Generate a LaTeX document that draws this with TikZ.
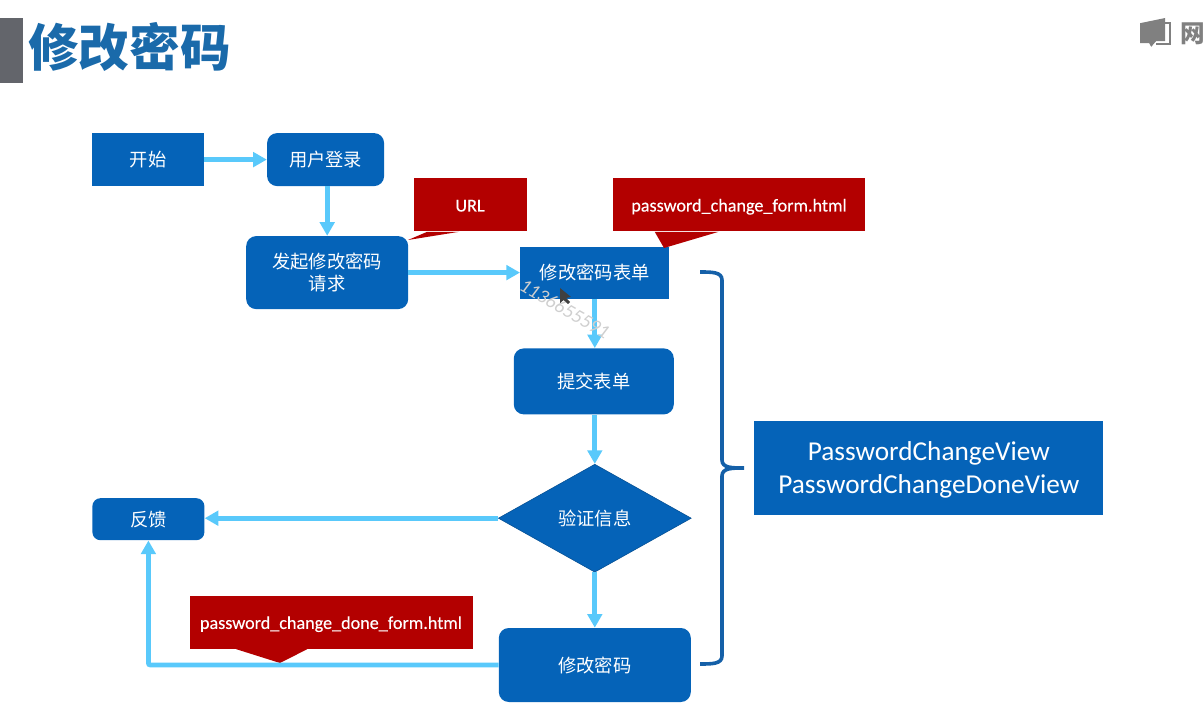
\documentclass[tikz,border=0pt]{standalone}
\usepackage{fontspec}
\setmainfont{Carlito}
\newfontfamily\cjk{Noto Sans CJK SC}
\newfontfamily\notefont[FakeBold=0.3]{Carlito}
\usetikzlibrary{arrows.meta, positioning, shapes.geometric, calc}
\definecolor{boxblue}{HTML}{0563B8}
\definecolor{flowblue}{HTML}{59C9FB}
\definecolor{notered}{HTML}{B30000}
\definecolor{titleblue}{HTML}{1A6AAA}
\definecolor{bracketblue}{HTML}{1560A8}
\definecolor{logogray}{HTML}{808080}
\definecolor{bargray}{HTML}{63656B}
\tikzstyle{sqbox} = [rectangle, minimum width=2.8cm, minimum height=1.325cm, text centered, fill=boxblue, text=white, font=\cjk\fontsize{13}{15.5}\selectfont]
\tikzstyle{rdbox} = [sqbox, rounded corners=0.25cm]
\tikzstyle{decide} = [diamond, aspect=1.78, inner sep=0pt, minimum width=4.825cm, minimum height=2.7cm, text centered, fill=boxblue, draw=boxblue!80!black, text=white, font=\cjk\fontsize{13}{15.5}\selectfont]
\tikzstyle{note} = [rectangle, minimum height=1.325cm, text height=0.4cm, text depth=0.075cm, text centered, fill=notered, text=white, font=\notefont\fontsize{12.9}{15}\selectfont]
\tikzstyle{flow} = [-{Stealth[length=0.34cm, width=0.36cm, inset=0pt]}, line width=0.12cm, flowblue]
\begin{document}
\begin{tikzpicture}[node distance=2cm]
\useasboundingbox (0,0) rectangle (30.1,-17.875);
\fill [bargray] (0,-0.45) rectangle (0.575,-2.075);
\node (title) [anchor=west, inner sep=0pt, text=titleblue, font=\cjk\bfseries\fontsize{36}{40}\selectfont] at (0.7,-1.17) {修改密码};
\node (start) [sqbox] at (3.7,-3.99) {开始};
\node (login) [rdbox, right of=start, xshift=2.44cm, minimum width=2.925cm] {用户登录};
\node (request) [rdbox, below of=login, xshift=0.04cm, yshift=-0.825cm, minimum width=4.05cm, minimum height=1.825cm, text width=3.4cm] {发起修改密码\\请求};
\node (form) [sqbox, right of=request, xshift=4.69cm, yshift=0.0cm, minimum width=3.725cm, minimum height=1.3cm] {修改密码表单};
\node (submit) [rdbox, below of=form, xshift=-0.025cm, yshift=-0.72cm, minimum width=4cm, minimum height=1.65cm] {提交表单};
\node (verify) [decide, below of=submit, xshift=0.025cm, yshift=-1.42cm] {验证信息};
\node (change) [rdbox, below of=verify, yshift=-1.67cm, minimum width=4.8cm, minimum height=1.85cm] {修改密码};
\node (feedback) [rdbox, left of=verify, xshift=-9.16cm, yshift=-0.025cm, minimum height=1.05cm, rounded corners=0.2cm] {反馈};
\node (view) [sqbox, right of=verify, xshift=6.35cm, yshift=1.25cm, minimum width=8.725cm, minimum height=2.35cm, align=center, font=\fontsize{19.4}{23.5}\selectfont] {\rule{0pt}{0.58cm}PasswordChangeView\\PasswordChangeDoneView};
\node (urlnote) [note, minimum width=2.825cm] at (11.75,-5.125) {URL};
\node (formnote) [note, minimum width=6.3cm] at (18.475,-5.125) {password\_change\_form.html};
\node (donenote) [note, minimum width=7.075cm] at (8.275,-15.56) {password\_change\_done\_form.html};
\fill [notered] ($(urlnote.south west)+(0.35,0)$) -- (10.2,-6) -- ($(urlnote.south west)+(1.15,0)$) -- cycle;
\fill [notered] ($(formnote.south west)+(1.05,0)$) -- (16.6,-6.2) -- ($(formnote.south west)+(2.65,0)$) -- cycle;
\fill [notered] ($(donenote.south west)+(1.175,0)$) -- (7,-16.575) -- ($(donenote.south west)+(2.95,0)$) -- cycle;
\draw [flow] (start) -- (login);
\draw [flow] (login.south-|request) -- (request);
\draw [flow] (request) -- (form);
\draw [flow] (form) -- (form|-submit.north);
\draw [flow] (verify|-submit.south) -- (verify);
\draw [flow] (verify) -- (change);
\draw [flow] (verify) -- (verify-|feedback.east);
\draw [flow, rounded corners=0.05cm] (change) -| (feedback);
\draw [bracketblue, line width=0.09cm] (17.5,-6.8) .. controls (17.8,-6.8) and (18.05,-6.8) .. (18.05,-7.0) -- (18.05,-11.5) .. controls (18.05,-11.7) and (18.3,-11.7) .. (18.6,-11.7) .. controls (18.3,-11.7) and (18.05,-11.7) .. (18.05,-11.9) -- (18.05,-16.4) .. controls (18.05,-16.6) and (17.8,-16.6) .. (17.5,-16.6);
\node (mark) [rotate=-30, text=gray!38, font=\itshape\fontsize{14}{15}\selectfont] at (14.12,-7.72) {1136655591};
\fill [black!75] (14,-7.2) -- (14,-7.58) -- (14.09,-7.5) -- (14.2,-7.6) -- (14.25,-7.55) -- (14.15,-7.45) -- (14.27,-7.42) -- cycle;
% logo corner
\fill [logogray] (28.5,-0.58) -- (29.13,-0.45) -- (29.13,-1.03) -- (28.9,-1.03) -- (28.78,-1.17) -- (28.73,-1.08) -- (28.5,-1.08) -- cycle;
\draw [logogray, line width=0.05cm] (29.13,-0.57) -- (29.25,-0.57) -- (29.25,-1.1) -- (28.9,-1.1);
\node (logotext) [anchor=west, inner sep=0pt, text=logogray, font=\cjk\bfseries\fontsize{17.5}{20}\selectfont] at (29.5,-0.85) {网};
\end{tikzpicture}
\end{document}
